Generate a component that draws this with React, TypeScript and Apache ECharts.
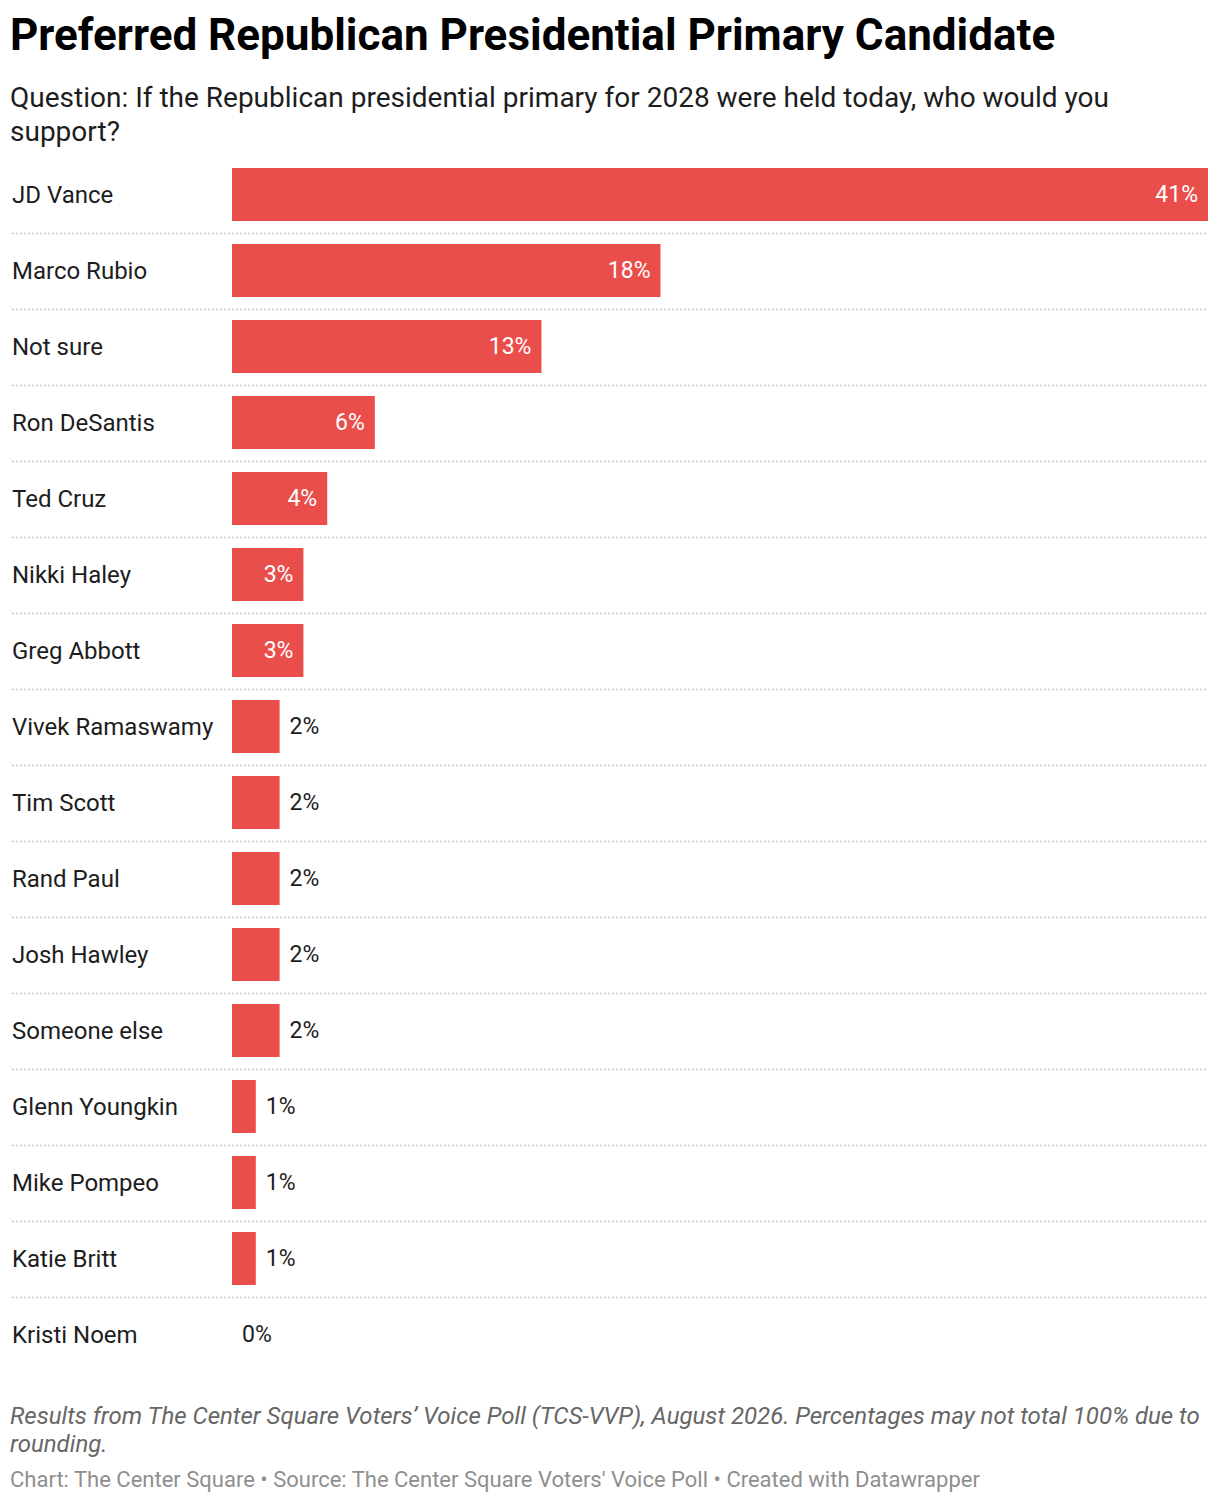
import React, { useEffect, useRef } from "react";
import * as echarts from "echarts";

const candidates = [
  "JD Vance", "Marco Rubio", "Not sure", "Ron DeSantis", "Ted Cruz", "Nikki Haley",
  "Greg Abbott", "Vivek Ramaswamy", "Tim Scott", "Rand Paul", "Josh Hawley",
  "Someone else", "Glenn Youngkin", "Mike Pompeo", "Katie Britt", "Kristi Noem",
];
const shares = [41, 18, 13, 6, 4, 3, 3, 2, 2, 2, 2, 2, 1, 1, 1, 0];
const insideThreshold = 3;

const titleText = "Preferred Republican Presidential Primary Candidate";
const subtitleText = "Question: If the Republican presidential primary for 2028 were held today, who would you\nsupport?";
const noteText = "Results from The Center Square Voters’ Voice Poll (TCS-VVP), August 2026. Percentages may not total 100% due to\nrounding.";
const creditText = "Chart: The Center Square • Source: The Center Square Voters' Voice Poll • Created with Datawrapper";

const FONT = "Roboto, 'Noto Sans', sans-serif";
const BAR = "#ea4e4b";

export default function App() {
  const ref = useRef<HTMLDivElement>(null);
  useEffect(() => {
    if (!ref.current) return;
    const chart = echarts.init(ref.current, undefined, { renderer: "svg" });
    const lastIdx = candidates.length - 1;
    chart.setOption({
      animation: false,
      backgroundColor: "#ffffff",
      textStyle: { fontFamily: FONT },
      grid: { left: 232, right: 12, top: 156.5, height: 1216 },
      xAxis: { type: "value", min: 0, max: 41, show: false },
      yAxis: {
        type: "category",
        data: candidates,
        inverse: true,
        axisLine: { show: false },
        axisTick: { show: false },
        splitLine: { show: false },
        axisLabel: {
          align: "left",
          margin: 220,
          fontSize: 24,
          color: "#1d1d1d",
          fontFamily: FONT,
        },
      },
      graphic: [
        {
          type: "text",
          style: { text: titleText, x: 10, y: 35, font: `bold 44px ${FONT}`, fill: "#000", verticalAlign: "middle" },
        },
        {
          type: "text",
          style: { text: subtitleText, x: 10, y: 80, font: `28px ${FONT}`, fill: "#1d1d1d", lineHeight: 34, verticalAlign: "top" },
        },
        {
          type: "text",
          style: { text: noteText, x: 10, y: 1402, font: `italic 24px ${FONT}`, fill: "#666", lineHeight: 28, verticalAlign: "top" },
        },
        {
          type: "text",
          style: { text: creditText, x: 10, y: 1468, font: `22px ${FONT}`, fill: "#8f8f8f", verticalAlign: "top" },
        },
      ],
      series: [
        {
          type: "custom",
          silent: true,
          data: candidates.map((_, i) => [0, i]),
          renderItem: (params: any, api: any) => {
            const i = api.value(1);
            if (i === lastIdx) return null;
            const c = api.coord([0, i]);
            const band = api.size([0, 1])[1];
            const y = Math.round(c[1] + band / 2) + 0.5;
            return {
              type: "line",
              shape: { x1: 12, y1: y, x2: 1208, y2: y },
              style: { stroke: "#c9c9c9", lineWidth: 1.5, lineDash: [2, 2] },
            };
          },
          z: 1,
        },
        {
          type: "bar",
          barWidth: 53,
          z: 2,
          itemStyle: { color: BAR },
          data: shares.map((v) => ({
            value: v,
            label: {
              show: true,
              position: v >= insideThreshold ? "insideRight" : "right",
              distance: 10,
              color: v >= insideThreshold ? "#ffffff" : "#1d1d1d",
              fontSize: 23,
              fontFamily: FONT,
              formatter: "{c}%",
            },
          })),
        },
      ],
    });
    return () => chart.dispose();
  }, []);
  return (
    <div
      ref={ref}
      style={{ position: "absolute", left: 0, top: 0, width: 1220, height: 1504, background: "#fff" }}
    />
  );
}
